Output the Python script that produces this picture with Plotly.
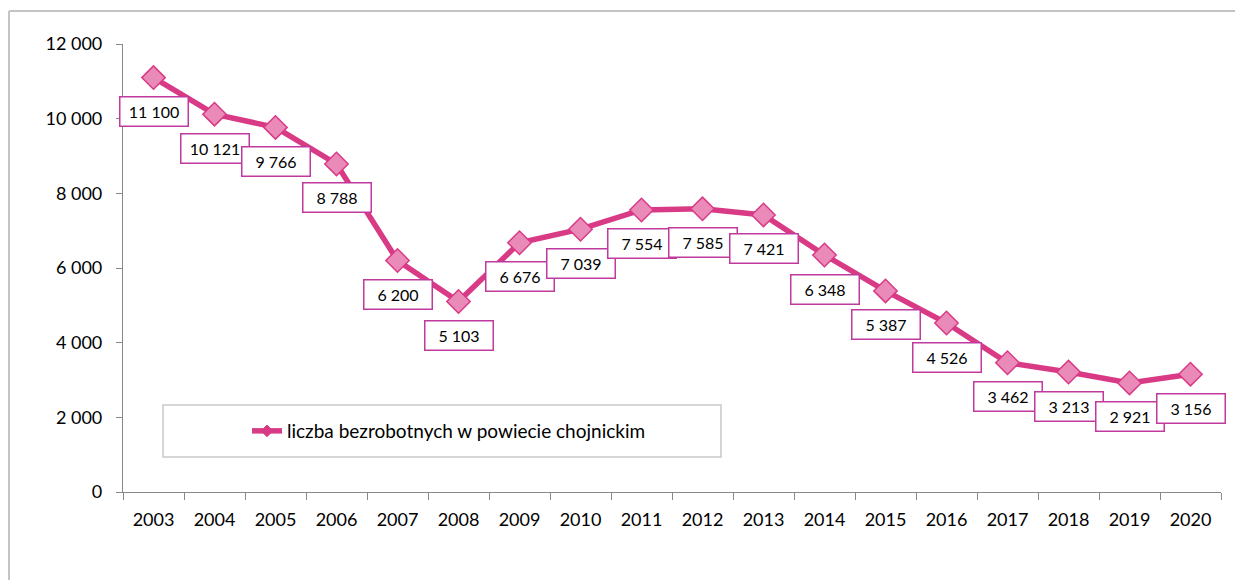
import plotly.graph_objects as go

years = [str(y) for y in range(2003, 2021)]
values = [11100, 10121, 9766, 8788, 6200, 5103, 6676, 7039, 7554, 7585,
          7421, 6348, 5387, 4526, 3462, 3213, 2921, 3156]
labels = ["11 100", "10 121", "9 766", "8 788", "6 200", "5 103", "6 676", "7 039",
          "7 554", "7 585", "7 421", "6 348", "5 387", "4 526", "3 462", "3 213",
          "2 921", "3 156"]
series_name = "liczba bezrobotnych w powiecie chojnickim"

LINE = "#d93a85"
MFILL = "#e98ab9"
BOX = "#c0399c"
FONT = "Lato"

W, H = 1243, 580
OFF = 8  # page body margin
# plot area in screen pixels
L, R, T, B = 123, 1221, 44, 492


def px(x):
    return (x - L) / (R - L)


def py(y):
    return (B - y) / (B - T)


fig = go.Figure()
fig.add_trace(go.Scatter(
    x=years, y=values, mode="lines+markers", name=series_name, showlegend=False,
    line=dict(color=LINE, width=5.5),
    marker=dict(symbol="diamond", size=18, color=MFILL, line=dict(color=LINE, width=1.5)),
))
# legend entry (smaller marker, as in the reference legend)
fig.add_trace(go.Scatter(
    x=[None], y=[None], mode="lines+markers", name=series_name, showlegend=True,
    line=dict(color=LINE, width=5.5),
    marker=dict(symbol="diamond", size=9, color=LINE, line=dict(color=LINE, width=1)),
))

for i, (yv, t) in enumerate(zip(values, labels)):
    fig.add_annotation(
        x=i, y=yv, text=t, showarrow=False, yshift=-34,
        font=dict(family=FONT, size=16, color="#000"),
        bgcolor="white", bordercolor=BOX, borderwidth=1.5,
        width=63, height=24, borderpad=2,
    )

# outer frame (top and left visible)
fig.add_shape(type="line", xref="paper", yref="paper",
              x0=px(9), x1=px(1260), y0=py(11), y1=py(11),
              line=dict(color="#c4c4c4", width=2))
fig.add_shape(type="line", xref="paper", yref="paper",
              x0=px(9), x1=px(9), y0=py(11), y1=py(600),
              line=dict(color="#c4c4c4", width=2))
# legend frame
fig.add_shape(type="rect", xref="paper", yref="paper",
              x0=px(163), x1=px(721), y0=py(457), y1=py(405),
              line=dict(color="#c8c8c8", width=1.5), fillcolor="white", layer="below")

fig.update_layout(
    width=W, height=H,
    margin=dict(l=L - OFF, r=W - (R - OFF), t=T - OFF, b=H - (B - OFF)),
    paper_bgcolor="white", plot_bgcolor="white",
    separators=", ",
    font=dict(family=FONT, size=18, color="#000"),
    showlegend=True,
    legend=dict(x=px(247), y=py(431), xanchor="left", yanchor="middle",
                bgcolor="rgba(0,0,0,0)", borderwidth=0,
                font=dict(family=FONT, size=19, color="#000")),
    xaxis=dict(
        type="category", range=[-0.5, len(years) - 0.5], autorange=False,
        showline=True, linecolor="#888888", linewidth=1.2,
        ticks="outside", ticklen=7, tickcolor="#888888", tickson="boundaries",
        showgrid=False, zeroline=False, ticklabelstandoff=11, tickangle=0,
        tickfont=dict(family=FONT, size=18, color="#000"),
    ),
    yaxis=dict(
        range=[0, 12000], autorange=False, dtick=2000, tickformat=",",
        showline=True, linecolor="#888888", linewidth=1.2,
        ticks="outside", ticklen=6, tickcolor="#888888",
        showgrid=False, zeroline=False, ticklabelstandoff=10,
        tickfont=dict(family=FONT, size=18, color="#000"),
    ),
)

fig.write_html("out.html")
